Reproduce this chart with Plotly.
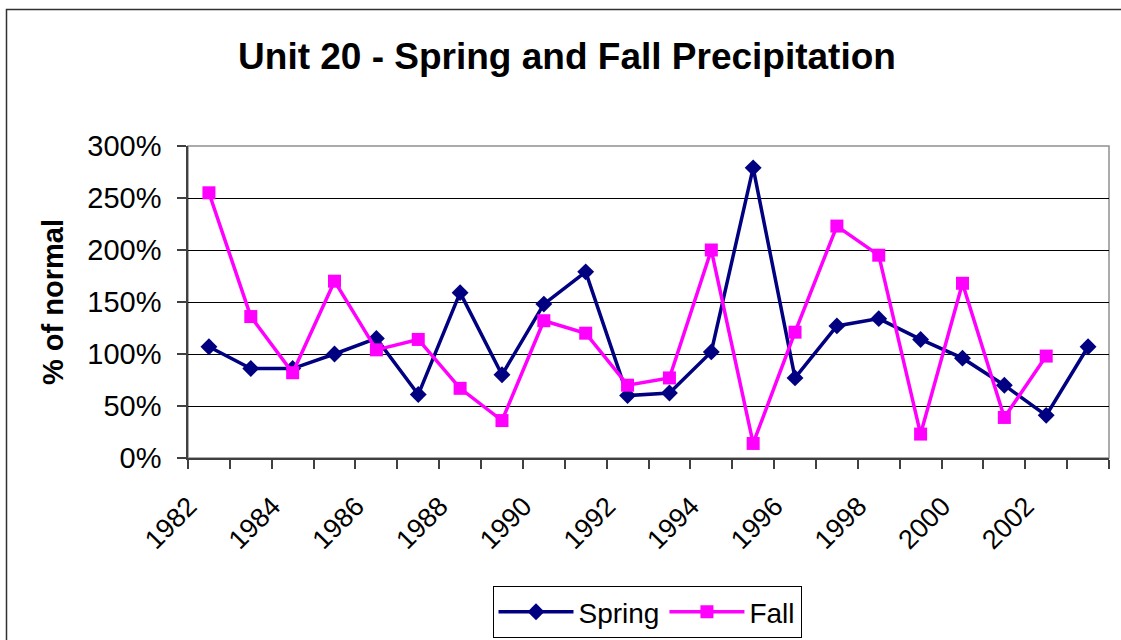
import plotly.graph_objects as go

years = list(range(1982, 2004))
spring = [1.07, 0.86, 0.86, 1.00, 1.15, 0.61, 1.59, 0.80, 1.48, 1.79, 0.60,
          0.625, 1.02, 2.79, 0.77, 1.27, 1.34, 1.14, 0.96, 0.70, 0.41, 1.07]
fall = [2.55, 1.36, 0.82, 1.70, 1.04, 1.14, 0.67, 0.36, 1.32, 1.20, 0.70,
        0.77, 2.00, 0.14, 1.21, 2.23, 1.95, 0.23, 1.68, 0.39, 0.98, None]
label_years = years[::2]
label_text = [str(y) for y in label_years]
y_ticks = [0, 0.5, 1.0, 1.5, 2.0, 2.5, 3.0]

W, H = 1121, 640
# plot area in screen pixels
PL, PR, PT, PB = 188, 1109, 146, 458
L, R, T, B = PL, W - PR, PT, H - PB
pw, ph = PR - PL, PB - PT

FONT = "Arial, 'Liberation Sans', sans-serif"

fig = go.Figure()
fig.add_trace(go.Scatter(
    x=years, y=spring, name="Spring", mode="lines+markers",
    line=dict(color="#000080", width=3.5),
    marker=dict(symbol="diamond", size=13, color="#000080"),
))
fig.add_trace(go.Scatter(
    x=years, y=fall, name="Fall", mode="lines+markers",
    line=dict(color="#FF00FF", width=3.5),
    marker=dict(symbol="square", size=13, color="#FF00FF"),
    connectgaps=False,
))

def px_x(x):
    return (x - PL) / pw

def px_y(y):
    return (PB - y) / ph

shapes = [
    dict(type="rect", xref="paper", yref="paper",
         x0=px_x(6.5), x1=px_x(1128), y0=px_y(9.5), y1=px_y(648),
         line=dict(color="#303030", width=1.5), layer="below"),
    dict(type="rect", xref="paper", yref="paper", x0=0, x1=1, y0=0, y1=1,
         line=dict(color="#909090", width=1.5), layer="below"),
]

fig.update_layout(
    width=W, height=H,
    margin=dict(l=L, r=R, t=T, b=B, autoexpand=False),
    paper_bgcolor="white", plot_bgcolor="white",
    font=dict(family=FONT, size=28, color="black"),
    title=dict(text="<b>Unit 20 - Spring and Fall Precipitation</b>",
               x=567 / W, xref="container", xanchor="center",
               y=1 - 56 / H, yref="container", yanchor="middle",
               font=dict(family=FONT, size=37, color="black")),
    showlegend=True,
    legend=dict(orientation="h", x=px_x(647), xanchor="center",
                y=px_y(586), yanchor="top",
                bordercolor="black", borderwidth=1, bgcolor="white",
                font=dict(family=FONT, size=28, color="black"),
                itemwidth=75, tracegroupgap=0),
    shapes=shapes,
    xaxis=dict(
        range=[1981.5, 2003.5],
        tickmode="array", tickvals=label_years, ticktext=label_text,
        tickangle=-45, ticks="", showgrid=False, zeroline=False,
        showline=True, linecolor="#404040", linewidth=1.5,
        tickfont=dict(family=FONT, size=27, color="black"),
        ticklabelstandoff=20, ticklabelshift=-20,
        minor=dict(ticks="outside", tick0=1981.5, dtick=1, ticklen=9,
                   tickcolor="#404040", tickwidth=1.5, showgrid=False),
    ),
    yaxis=dict(
        range=[0, 3], tickvals=y_ticks, tickformat=".0%",
        ticks="outside", ticklen=9, tickcolor="#404040", tickwidth=1.5,
        showgrid=True, gridcolor="black", gridwidth=1,
        zeroline=False, showline=True, linecolor="#404040", linewidth=1.5,
        tickfont=dict(family=FONT, size=29, color="black"),
        ticklabelstandoff=10,
        title=dict(text="<b>% of normal</b>", standoff=15,
                   font=dict(family=FONT, size=29, color="black")),
    ),
)

fig.write_html("out.html",
               config={"displayModeBar": False},
               post_script="document.body.style.margin='0';"
                           "document.body.style.overflow='hidden';")
